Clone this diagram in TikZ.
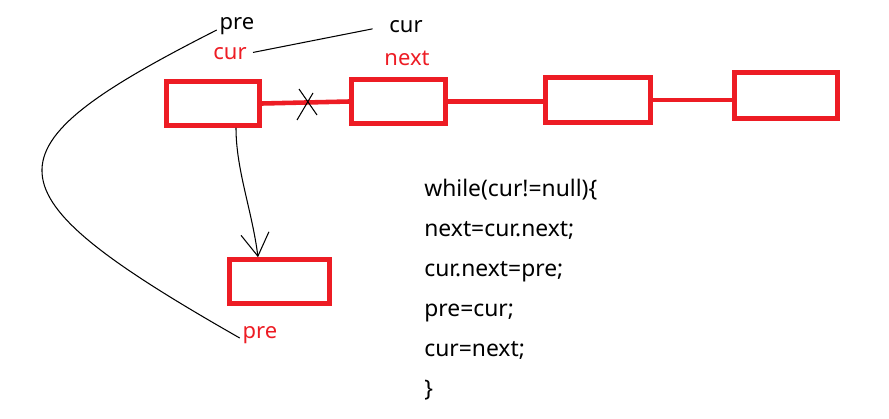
\documentclass[tikz,border=0pt]{standalone}
\usepackage{fontspec}
\setmainfont{Noto Sans}
\usepackage{tikz}
\usetikzlibrary{arrows.meta,calc,positioning}
\definecolor{listred}{HTML}{ED1C24}

\begin{document}
\begin{tikzpicture}[x=0.02cm,y=-0.02cm,>={Straight Barb[length=13pt,width=16pt]},
    nodebox/.style={draw=listred,line width=2.6pt,inner sep=0pt,minimum height=0.88cm},
    link/.style={listred,line width=2.6pt},
    pointer/.style={black,line width=0.6pt},
    lbl/.style={font=\fontsize{12.5}{15}\selectfont,inner sep=1.5pt,anchor=base}]
    \useasboundingbox (0,0) rectangle (889,419);
    % list nodes
    \node[nodebox,minimum width=1.86cm] (n1) at (213,103.5) {};
    \node[nodebox,minimum width=1.88cm] (n2) at (398.5,101.5) {};
    \node[nodebox,minimum width=2.1cm,minimum height=0.9cm] (n3) at (598,100) {};
    \node[nodebox,minimum width=2.06cm,minimum height=0.92cm] (n4) at (786,95.5) {};
    \node[nodebox,minimum width=2cm] (n5) at (279.5,281.5) {};
    \draw[link] (n1.east) -- (n2.west);
    \draw[link] (n2.east) -- (n2.east -| n3.west);
    \draw[link] (n3.east) -- (n3.east -| n4.west);
    % the cut link
    \coordinate (cut) at ($(n1.east)!0.5!(n2.west)$);
    \draw[pointer] ($(cut)+(-6.5,-13.5)$) -- ($(cut)+(11.5,12.5)$);
    \draw[pointer] ($(cut)+(7.5,-9.5)$) -- ($(cut)+(-8.5,17.5)$);
    % labels
    \node[lbl] (pretop) at (237,30) {pre};
    \node[lbl,text=listred] (curold) at (230,59) {cur};
    \node[lbl] (curtop) at (406,32) {cur};
    \node[lbl,text=listred] (nextlbl) at (407,65) {next};
    \node[lbl,text=listred] (prenew) at (260,338) {pre};
    \draw[pointer,shorten <=2pt,shorten >=8pt] (curold.east) -- (curtop.west);
    \draw[pointer] (pretop.base west) .. controls (-20,150) and (-20,190) .. (prenew.base west);
    \draw[pointer,->] ([xshift=0.46cm]n1.south) .. controls +(0,42) and +(-6,-47) .. ([xshift=-0.43cm]n5.north);
    % code
    \node[anchor=north west,align=left,inner sep=0pt,font=\fontsize{13}{22.7}\selectfont] (code) at (424,179)
        {while(cur!=null)\{\\ next=cur.next;\\ cur.next=pre;\\ pre=cur;\\ cur=next;\\ \}};
\end{tikzpicture}
\end{document}
